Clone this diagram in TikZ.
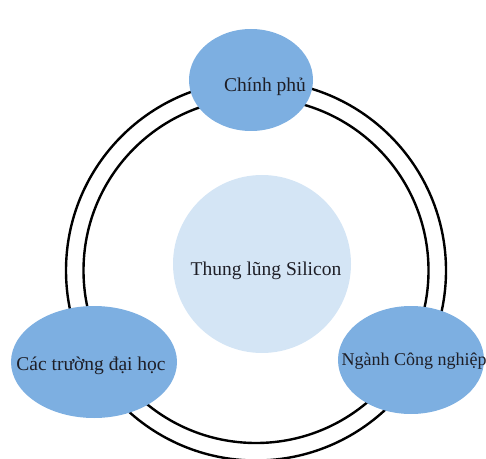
\documentclass[tikz,border=0pt]{standalone}
\usepackage{fontspec}
\setmainfont{Liberation Serif}
\usetikzlibrary{calc}
\definecolor{midblue}{RGB}{125,175,225}
\definecolor{paleblue}{RGB}{212,229,245}
\definecolor{inkgray}{RGB}{30,30,38}

\begin{document}
\begin{tikzpicture}[x=1pt,y=1pt,
  lbl/.style={text=inkgray,inner sep=0pt,font=\fontsize{19.5}{22}\selectfont},
  ring/.style={line width=2.4pt,black}]
\useasboundingbox (0,0) rectangle (486,458);
\draw[ring] (256,187.5) circle (190);
\draw[ring] (256,187.5) circle (172.5);
\fill[paleblue] (262,194) circle (89);
\fill[midblue] (251,378) ellipse (62 and 51);
\fill[midblue] (94,96) ellipse (83 and 56);
\fill[midblue] (411,98) ellipse (73 and 54);
\node[lbl] (valley) at (266,187) {Thung lũng Silicon};
\node[lbl] (gov) at (265,371) {Chính phủ};
\node[lbl] (uni) at (91,92) {Các trường đại học};
\node[lbl,font=\fontsize{18}{20}\selectfont] (ind) at (414,97) {Ngành Công nghiệp};
\end{tikzpicture}
\end{document}
